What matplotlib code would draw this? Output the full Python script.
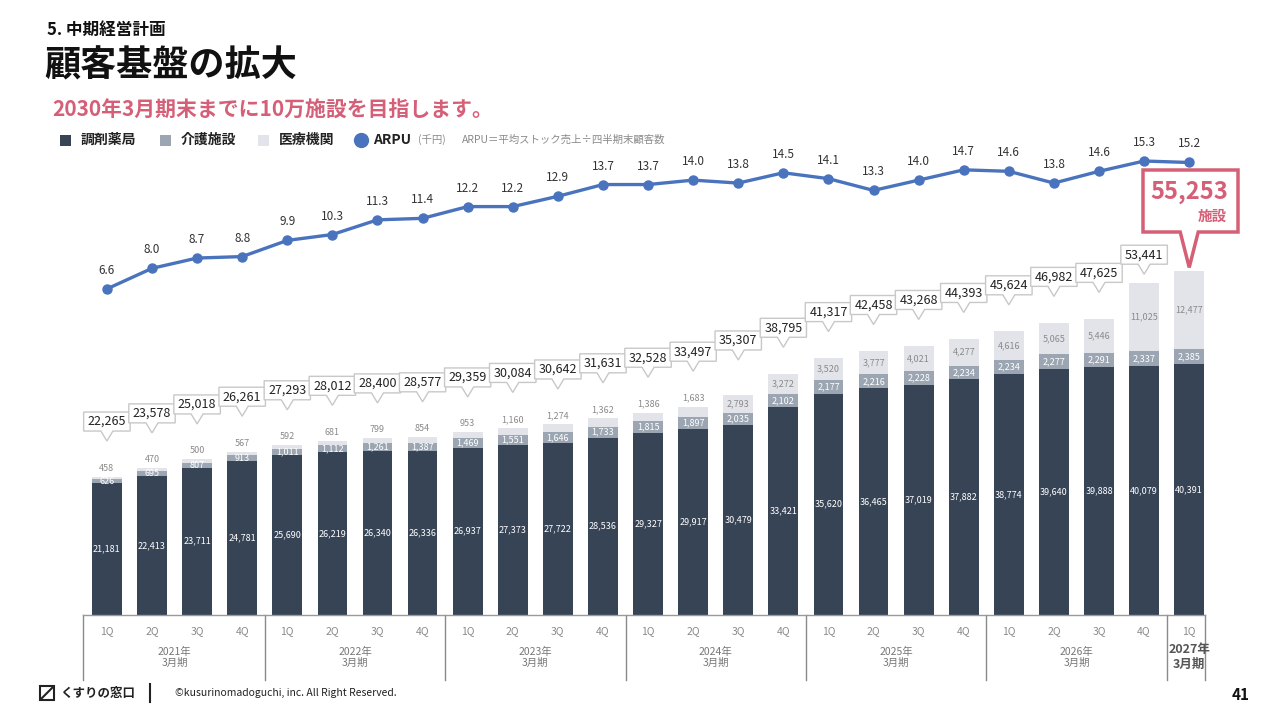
import matplotlib
matplotlib.use("Agg")
import matplotlib.pyplot as plt
from matplotlib.path import Path
from matplotlib.patches import Rectangle, Polygon

plt.rcParams['font.family'] = ['Noto Sans CJK JP', 'DejaVu Sans']

# ---- data ----
quarters = ["1Q", "2Q", "3Q", "4Q"] * 6 + ["1Q"]
fiscal_groups = ["2021年\n3月期", "2022年\n3月期", "2023年\n3月期", "2024年\n3月期",
                 "2025年\n3月期", "2026年\n3月期", "2027年\n3月期"]
group_sizes = [4, 4, 4, 4, 4, 4, 1]

pharmacy = [21181, 22413, 23711, 24781, 25690, 26219, 26340, 26336, 26937, 27373,
            27722, 28536, 29327, 29917, 30479, 33421, 35620, 36465, 37019, 37882,
            38774, 39640, 39888, 40079, 40391]
care = [626, 695, 807, 913, 1011, 1112, 1261, 1387, 1469, 1551, 1646, 1733, 1815,
        1897, 2035, 2102, 2177, 2216, 2228, 2234, 2234, 2277, 2291, 2337, 2385]
medical = [458, 470, 500, 567, 592, 681, 799, 854, 953, 1160, 1274, 1362, 1386,
           1683, 2793, 3272, 3520, 3777, 4021, 4277, 4616, 5065, 5446, 11025, 12477]
arpu = [6.6, 8.0, 8.7, 8.8, 9.9, 10.3, 11.3, 11.4, 12.2, 12.2, 12.9, 13.7, 13.7,
        14.0, 13.8, 14.5, 14.1, 13.3, 14.0, 14.7, 14.6, 13.8, 14.6, 15.3, 15.2]

totals = [a + b + c for a, b, c in zip(pharmacy, care, medical)]
n = len(totals)
x = list(range(n))

DARK = "#364456"
MID = "#9ba6b2"
LIGHT = "#e2e4e9"
BLUE = "#4a73be"
RED = "#d65f78"
GRAY = "#8a8a8a"

fig = plt.figure(figsize=(12.8, 7.2), dpi=100)
W, H = 1280, 720


def fy(py):
    return 1 - py / H


# axes: 83..1205 px wide, 130..615 px tall
ax = fig.add_axes([83 / W, fy(615), (1205 - 83) / W, (615 - 130) / H])
ax.set_xlim(-0.53, 24.35)
ax.set_ylim(0, 78000)
ax.axis("off")

bw = 0.66
ax.bar(x, pharmacy, bw, color=DARK, zorder=2)
ax.bar(x, care, bw, bottom=pharmacy, color=MID, zorder=2)
ax.bar(x, medical, bw, bottom=[p + c for p, c in zip(pharmacy, care)], color=LIGHT, zorder=2)

for i in range(n):
    ax.text(i, pharmacy[i] / 2, f"{pharmacy[i]:,}", ha="center", va="center",
            color="white", fontsize=6.5, zorder=3)
    ax.text(i, pharmacy[i] + care[i] / 2, f"{care[i]:,}", ha="center", va="center",
            color="white", fontsize=6.5, zorder=3)
    if medical[i] > 2000:
        ax.text(i, pharmacy[i] + care[i] + medical[i] / 2, f"{medical[i]:,}",
                ha="center", va="center", color=GRAY, fontsize=6.5, zorder=3)
    else:
        ax.annotate(f"{medical[i]:,}", (i, totals[i]), xytext=(0, 4),
                    textcoords="offset pixels", ha="center", va="bottom",
                    color=GRAY, fontsize=6.5, zorder=3)


def callout(x0, y0, width, height, mutation_size):
    # rectangle with small pointer below
    px, py = 4, 3
    x0 -= px
    width += 2 * px
    y0 -= py
    height += 2 * py
    cx = x0 + width / 2
    verts = [(x0, y0), (cx - 6, y0), (cx, y0 - 10), (cx + 6, y0),
             (x0 + width, y0), (x0 + width, y0 + height), (x0, y0 + height), (x0, y0)]
    return Path(verts, closed=True)


# callout boxes with totals (last one gets the red callout)
for i in range(n - 1):
    if i < 15:
        off = 55
    elif i < 23:
        off = 46
    else:
        off = 28
    ax.annotate(f"{totals[i]:,}", (i, totals[i]), xytext=(0, off),
                textcoords="offset pixels", ha="center", va="center",
                fontsize=9, color="#222222", zorder=5 + i,
                bbox=dict(boxstyle=callout, fc="white", ec="#c8c8c8", lw=1.0))

# red callout for the latest quarter
li = n - 1
tip = ax.transData.transform((li, totals[li]))
tip = (tip[0], tip[1] + 4)
bx0, bx1 = 1143, 1238
by0, by1 = H - 232, H - 170
red_poly = [(bx0, by0), (tip[0] - 9, by0), tip, (tip[0] + 9, by0), (bx1, by0),
            (bx1, by1), (bx0, by1)]
fig.patches.append(Polygon(red_poly, closed=True, transform=None, fc="white",
                           ec=RED, lw=2.5, zorder=6))
fig.text(1228 / W, fy(192), f"{totals[li]:,}", ha="right", va="center",
         fontsize=17, fontweight="bold", color=RED, zorder=7)
fig.text(1227 / W, fy(216), "施設", ha="right", va="center",
         fontsize=10.5, fontweight="bold", color=RED, zorder=7)

# ARPU line on twin axis
ax2 = ax.twinx()
ax2.set_ylim(-15.58, 17.41)
ax2.axis("off")
ax2.plot(x, arpu, color=BLUE, lw=2.4, marker="o", ms=6.5, zorder=4)
for i, v in enumerate(arpu):
    ax2.annotate(f"{v:.1f}", (i, v), xytext=(0, 12), textcoords="offset pixels",
                 ha="center", va="bottom", fontsize=8.5, color="#333333")

# x axis: baseline, dividers, quarter and fiscal labels
ax.plot([-0.53, 24.35], [0, 0], color="#9a9a9a", lw=1, clip_on=False, zorder=3)
start = 0
edges = [-0.53]
for g, size in zip(fiscal_groups, group_sizes):
    end = start + size
    edges.append(end - 0.5 if end < n else 24.35)
    start = end
for e in edges:
    ax.plot([e, e], [0, -10500], color="#8a8a8a", lw=1, clip_on=False)
for i, q in enumerate(quarters):
    ax.annotate(q, (i, 0), xytext=(0, -16), textcoords="offset pixels",
                ha="center", va="center", fontsize=7.5, color=GRAY)
start = 0
for k, (g, size) in enumerate(zip(fiscal_groups, group_sizes)):
    mid = start + (size - 1) / 2
    last = k == len(fiscal_groups) - 1
    ax.annotate(g, (mid, 0), xytext=(0, -42), textcoords="offset pixels",
                ha="center", va="center", fontsize=9 if last else 7.5,
                color="#555555" if last else "#777777", linespacing=1.1,
                fontweight="bold" if last else "normal")
    start += size

# ---- header ----
fig.text(47 / W, fy(30), "5. 中期経営計画", fontsize=12, fontweight="bold",
         va="center", color="#111111")
fig.text(44 / W, fy(66), "顧客基盤の拡大", fontsize=26, fontweight="bold",
         va="center", color="#111111")
fig.text(52 / W, fy(110), "2030年3月期末までに10万施設を目指します。", fontsize=15,
         fontweight="bold", va="center", color=RED)

# legend
ly = fy(140)
for sx, col, lab in [(60, DARK, "調剤薬局"), (160, MID, "介護施設"), (258, LIGHT, "医療機関")]:
    fig.patches.append(Rectangle((sx / W, ly - 5.5 / H), 11 / W, 11 / H,
                                 transform=fig.transFigure, fc=col, ec="none"))
    fig.text((sx + 21) / W, ly, lab, fontsize=10, fontweight="bold", va="center",
             color="#222222")
fig.lines.append(plt.Line2D([361 / W], [ly], marker="o", ms=10, color=BLUE,
                            transform=fig.transFigure))
fig.text(373 / W, ly, "ARPU", fontsize=10, fontweight="bold", va="center", color="#222222")
fig.text(418 / W, ly, "(千円)", fontsize=7.5, va="center", color=GRAY)
fig.text(462 / W, ly, "ARPU＝平均ストック売上÷四半期末顧客数", fontsize=7.5,
         va="center", color=GRAY)

# ---- footer ----
fig.patches.append(Rectangle((40 / W, fy(700)), 14 / W, 14 / H, transform=fig.transFigure,
                             fc="white", ec="#222222", lw=1.5))
fig.lines.append(plt.Line2D([41 / W, 53 / W], [fy(699), fy(687)], color="#222222",
                            lw=1.5, transform=fig.transFigure))
fig.text(60 / W, fy(693), "くすりの窓口", fontsize=9, fontweight="bold", va="center",
         color="#222222")
fig.lines.append(plt.Line2D([150 / W, 150 / W], [fy(684), fy(702)], color="#222222",
                            lw=1.5, transform=fig.transFigure))
fig.text(175 / W, fy(693), "©kusurinomadoguchi, inc. All Right Reserved.", fontsize=7.5,
         va="center", color="#222222")
fig.text(1250 / W, fy(695), "41", fontsize=11, fontweight="bold", ha="right",
         va="center", color="#111111")

fig.savefig("out.png", dpi=100)
